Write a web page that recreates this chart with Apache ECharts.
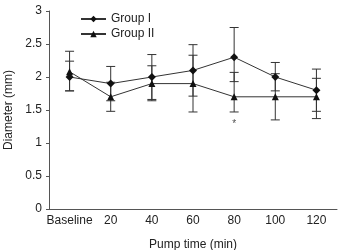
<!DOCTYPE html>
<html>
<head>
<meta charset="utf-8">
<script src="https://cdn.jsdelivr.net/npm/echarts@6/dist/echarts.min.js"></script>
<style>
  html, body { margin: 0; padding: 0; background: #fff; }
  #chart { width: 339px; height: 250px; }
</style>
</head>
<body>
<div id="chart"></div>
<script>
const categories = ['Baseline', '20', '40', '60', '80', '100', '120']
const group1 = [2.0, 1.9, 2.0, 2.1, 2.3, 2.0, 1.8]
const group1Low = [1.79, 1.64, 1.66, 1.71, 1.93, 1.79, 1.48]
const group1High = [2.24, 2.16, 2.34, 2.49, 2.75, 2.22, 2.12]
const group2 = [2.08, 1.7, 1.9, 1.9, 1.7, 1.7, 1.7]
const group2Low = [1.79, 1.48, 1.64, 1.47, 1.47, 1.35, 1.37]
const group2High = [2.39, 1.92, 2.17, 2.33, 2.07, 2.05, 1.98]
const starMarks = [[4, 1.29]]

const textColor = '#222'
const axisColor = '#555'
const font = 'Liberation Sans, Arial, sans-serif'

function errorData(low, high) {
  return low.map((v, i) => [i, v, high[i]])
}

function renderError(params, api) {
  const top = api.coord([api.value(0), api.value(2)])
  const bot = api.coord([api.value(0), api.value(1)])
  const w = 4.5
  const style = { stroke: '#333', lineWidth: 1 }
  return {
    type: 'group',
    children: [
      { type: 'line', shape: { x1: top[0], y1: top[1], x2: bot[0], y2: bot[1] }, style },
      { type: 'line', shape: { x1: top[0] - w, y1: top[1], x2: top[0] + w, y2: top[1] }, style },
      { type: 'line', shape: { x1: bot[0] - w, y1: bot[1], x2: bot[0] + w, y2: bot[1] }, style },
    ],
  }
}

const chart = echarts.init(document.getElementById('chart'))
chart.setOption({
  animation: false,
  textStyle: { fontFamily: font, color: textColor },
  grid: { left: 49, right: 2, top: 11, bottom: 41, outerBoundsMode: 'none' },
  legend: {
    left: 75,
    top: 8,
    orient: 'vertical',
    itemGap: 3,
    itemWidth: 25,
    itemHeight: 8,
    textStyle: { fontSize: 12, color: textColor, fontFamily: font },
    data: ['Group I', 'Group II'],
  },
  xAxis: {
    type: 'category',
    data: categories,
    name: 'Pump time (min)',
    nameLocation: 'middle',
    nameGap: 30,
    nameTextStyle: { fontSize: 12, color: textColor },
    axisLine: { lineStyle: { color: axisColor } },
    axisTick: { inside: true, length: 3, lineStyle: { color: axisColor } },
    axisLabel: { fontSize: 12, color: textColor, margin: 6, interval: 0 },
  },
  yAxis: {
    type: 'value',
    min: 0,
    max: 3,
    interval: 0.5,
    name: 'Diameter (mm)',
    nameLocation: 'middle',
    nameGap: 30,
    nameTextStyle: { fontSize: 12, color: textColor },
    axisLine: { show: true, lineStyle: { color: axisColor } },
    axisTick: { show: true, length: 3, lineStyle: { color: axisColor } },
    axisLabel: { fontSize: 12, color: textColor, margin: 7 },
    splitLine: { show: false },
  },
  series: [
    {
      type: 'custom',
      renderItem: renderError,
      encode: { x: 0, y: [1, 2] },
      data: errorData(group1Low, group1High),
      z: 1,
    },
    {
      type: 'custom',
      renderItem: renderError,
      encode: { x: 0, y: [1, 2] },
      data: errorData(group2Low, group2High),
      z: 1,
    },
    {
      name: 'Group I',
      type: 'line',
      data: group1,
      symbol: 'diamond',
      symbolSize: 8,
      lineStyle: { color: '#333', width: 1 },
      itemStyle: { color: '#111' },
      z: 3,
    },
    {
      name: 'Group II',
      type: 'line',
      data: group2,
      symbol: 'triangle',
      symbolSize: 7,
      lineStyle: { color: '#333', width: 1 },
      itemStyle: { color: '#111' },
      z: 3,
    },
    {
      type: 'scatter',
      data: starMarks,
      symbolSize: 0,
      label: { show: true, formatter: '*', position: 'inside', fontSize: 10, color: textColor },
    },
  ],
})
</script>
</body>
</html>
